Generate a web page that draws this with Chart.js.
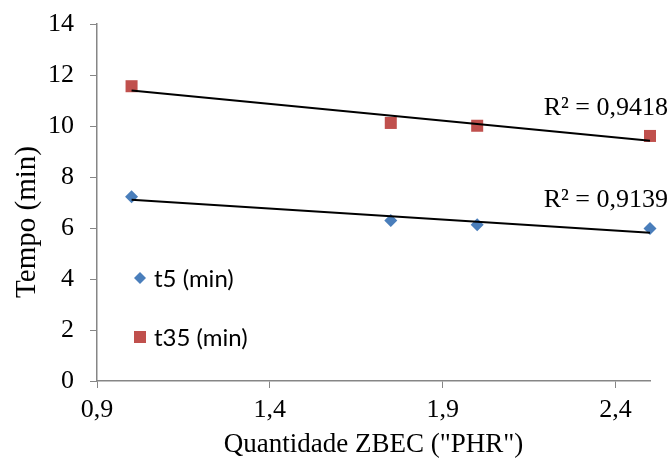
<!DOCTYPE html>
<html>
<head>
<meta charset="utf-8">
<script src="https://cdn.jsdelivr.net/npm/chart.js@4.4.1/dist/chart.umd.min.js"></script>
<style>
  html, body { margin: 0; padding: 0; background: #fff; }
  #wrap { width: 669px; height: 461px; }
</style>
</head>
<body>
<div id="wrap"><canvas id="grafico"></canvas></div>
<script>
// dados
const quantidadeZBEC = [1.0, 1.75, 2.0, 2.5];
const t5 = [7.23, 6.29, 6.13, 5.98];
const t35 = [11.56, 10.12, 10.01, 9.61];
const ticksX = [0.9, 1.4, 1.9, 2.4];
const ticksY = [0, 2, 4, 6, 8, 10, 12, 14];
const nomesSeries = ['t5 (min)', 't35 (min)'];
const textosR2 = ['R² = 0,9139', 'R² = 0,9418'];

const corAzul = '#4a7ebb';
const corVermelha = '#c0504d';
const corEixo = '#868686';
const fonteSerif = '"Liberation Serif", "Times New Roman", serif';

// reta de regressão linear (linha de tendência do Excel)
function tendencia(xs, ys) {
    const n = xs.length;
    const mx = xs.reduce((a, b) => a + b, 0) / n;
    const my = ys.reduce((a, b) => a + b, 0) / n;
    let sxy = 0, sxx = 0;
    for (let i = 0; i < n; i++) {
        sxy += (xs[i] - mx) * (ys[i] - my);
        sxx += (xs[i] - mx) * (xs[i] - mx);
    }
    const a = sxy / sxx;
    const b = my - a * mx;
    const x0 = Math.min(...xs), x1 = Math.max(...xs);
    return [{ x: x0, y: a * x0 + b }, { x: x1, y: a * x1 + b }];
}

const pontos = (ys) => quantidadeZBEC.map((x, i) => ({ x: x, y: ys[i] }));
const linhaT5 = tendencia(quantidadeZBEC, t5);
const linhaT35 = tendencia(quantidadeZBEC, t35);

// legenda, R² e título do eixo Y desenhados à mão
const extras = {
    id: 'extras',
    afterDraw(chart) {
        const ctx = chart.ctx;
        const area = chart.chartArea;
        const sy = chart.scales.y;
        ctx.save();

        // textos R² perto do fim de cada tendência
        ctx.font = '26px ' + fonteSerif;
        ctx.fillStyle = '#000';
        ctx.textAlign = 'right';
        ctx.textBaseline = 'alphabetic';
        [linhaT5, linhaT35].forEach((l, i) => {
            const yp = sy.getPixelForValue(l[1].y);
            ctx.fillText(textosR2[i], chart.width - 1, yp - 26);
        });

        // legenda dentro da área do gráfico
        ctx.font = '24px Lato, "Open Sans", sans-serif';
        ctx.textAlign = 'left';
        ctx.textBaseline = 'middle';
        const lx = area.left + 43;
        const ly = [area.top + 254, area.top + 313];
        // losango azul
        ctx.fillStyle = corAzul;
        ctx.beginPath();
        ctx.moveTo(lx, ly[0] - 6);
        ctx.lineTo(lx + 6, ly[0]);
        ctx.lineTo(lx, ly[0] + 6);
        ctx.lineTo(lx - 6, ly[0]);
        ctx.closePath();
        ctx.fill();
        // quadrado vermelho
        ctx.fillStyle = corVermelha;
        ctx.fillRect(lx - 6, ly[1] - 6, 12, 12);
        ctx.fillStyle = '#000';
        ctx.fillText(nomesSeries[0], lx + 14, ly[0] + 1);
        ctx.fillText(nomesSeries[1], lx + 14, ly[1] + 1);

        // título do eixo Y
        ctx.translate(27, 222);
        ctx.rotate(-Math.PI / 2);
        ctx.textAlign = 'center';
        ctx.font = '29px ' + fonteSerif;
        ctx.fillText('Tempo (min)', 0, 0);
        ctx.restore();
    }
};

const ctx = document.getElementById('grafico').getContext('2d');
new Chart(ctx, {
    type: 'scatter',
    data: {
        datasets: [
            {
                label: nomesSeries[0],
                data: pontos(t5),
                pointStyle: 'rectRot',
                pointRadius: 6.5,
                pointHoverRadius: 6.5,
                backgroundColor: corAzul,
                borderColor: corAzul,
                borderWidth: 0,
                clip: false,
                order: 2
            },
            {
                label: nomesSeries[1],
                data: pontos(t35),
                pointStyle: 'rect',
                pointRadius: 8.5,
                pointHoverRadius: 8.5,
                backgroundColor: corVermelha,
                borderColor: corVermelha,
                borderWidth: 0,
                clip: false,
                order: 2
            },
            {
                type: 'line',
                label: 'tendência t5',
                data: linhaT5,
                borderColor: '#000',
                borderWidth: 2,
                pointRadius: 0,
                fill: false,
                clip: false,
                order: 1
            },
            {
                type: 'line',
                label: 'tendência t35',
                data: linhaT35,
                borderColor: '#000',
                borderWidth: 2,
                pointRadius: 0,
                fill: false,
                clip: false,
                order: 1
            }
        ]
    },
    options: {
        responsive: true,
        maintainAspectRatio: false,
        animation: false,
        layout: { padding: { top: 24, right: 19, left: 0, bottom: 0 } },
        plugins: {
            legend: { display: false },
            tooltip: { enabled: false }
        },
        scales: {
            x: {
                type: 'linear',
                min: 0.9,
                max: 2.5,
                afterBuildTicks: (s) => { s.ticks = ticksX.map(v => ({ value: v })); },
                afterFit: (s) => { s.height = 80; s.paddingLeft = 0; s.paddingRight = 0; },
                ticks: {
                    color: '#000',
                    font: { family: fonteSerif, size: 26 },
                    padding: 7,
                    maxRotation: 0,
                    callback: (v) => v.toFixed(1).replace('.', ',')
                },
                grid: { drawOnChartArea: false, color: corEixo, tickLength: 7 },
                border: { color: corEixo, width: 1.5 },
                title: {
                    display: true,
                    text: 'Quantidade ZBEC ("PHR")',
                    color: '#000',
                    font: { family: fonteSerif, size: 27 },
                    padding: { top: 0, bottom: 0 }
                }
            },
            y: {
                min: 0,
                max: 14,
                afterBuildTicks: (s) => { s.ticks = ticksY.map(v => ({ value: v })); },
                afterFit: (s) => { s.width = 97; s.paddingTop = 0; s.paddingBottom = 0; },
                ticks: {
                    color: '#000',
                    font: { family: fonteSerif, size: 26 },
                    padding: 16
                },
                grid: { drawOnChartArea: false, color: corEixo, tickLength: 7 },
                border: { color: corEixo, width: 1.5 }
            }
        }
    },
    plugins: [extras]
});
</script>
</body>
</html>
